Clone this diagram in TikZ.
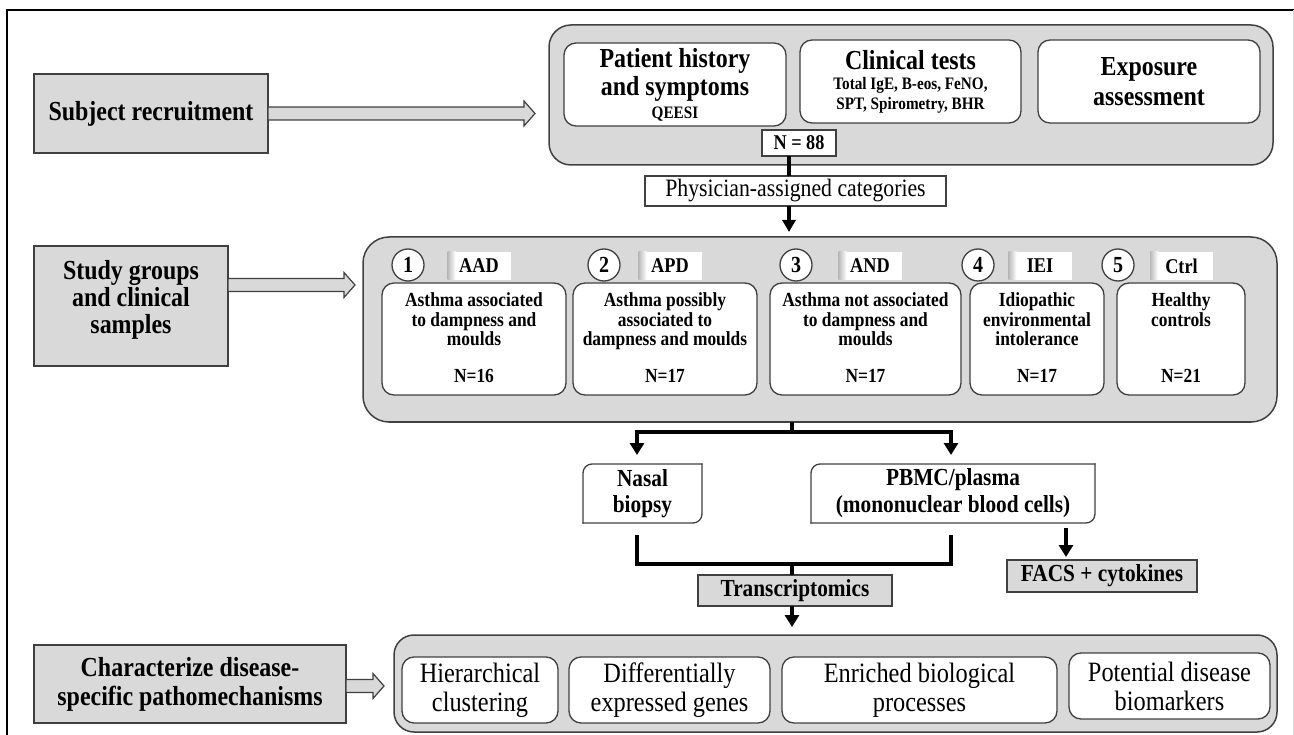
\documentclass[tikz,border=0pt]{standalone}
\usepackage{fontspec}
\setmainfont{Liberation Serif}[FakeStretch=0.87]
\usetikzlibrary{arrows.meta,calc}
\definecolor{gfill}{RGB}{217,217,217}
\definecolor{bord}{RGB}{64,64,64}
\newcommand\hollowarrow[2]{%
  \draw[draw=bord, line width=1.2pt, fill=gfill, line join=miter] let \p1=#1, \p2=#2 in
    (\x1,\y1+6.5pt) -- (\x2-11pt,\y1+6.5pt) -- (\x2-11pt,\y1+12.5pt) -- (\x2,\y1)
    -- (\x2-11pt,\y1-12.5pt) -- (\x2-11pt,\y1-6.5pt) -- (\x1,\y1-6.5pt) -- cycle;}
\begin{document}
\begin{tikzpicture}[x=1pt,y=-1pt,
  every node/.style={inner sep=0pt, outer sep=0pt},
  grp/.style={draw=bord, line width=1.5pt, fill=gfill, rounded corners=22pt},
  hbox/.style={draw=bord, line width=1.3pt, fill=gfill},
  wbox/.style={draw=bord, line width=1.3pt, fill=white, rounded corners=12pt},
  pbox/.style={draw=bord, line width=1.3pt, fill=white},
  hfont/.style={font=\fontsize{27.5}{29}\selectfont\bfseries, align=center},
  gbox/.style={wbox, minimum height=112pt},
  gtext/.style={font=\fontsize{20}{19.5}\selectfont\bfseries, align=center, anchor=north},
  ntext/.style={font=\fontsize{20}{22}\selectfont\bfseries, anchor=base},
  circ/.style={circle, draw=bord, line width=1.3pt, fill=white, minimum size=32pt, font=\fontsize{23}{24}\selectfont\bfseries},
  tagbox/.style={fill=white, minimum width=63pt, minimum height=28pt, font=\fontsize{21}{22}\selectfont\bfseries},
  bfont/.style={font=\fontsize{28}{29}\selectfont, align=center},
  conn/.style={line width=3.6pt, draw=black, line join=miter},
  tip/.style={-{Triangle[width=14pt,length=12pt]}},
  outl/.style={draw=bord, line width=1.3pt, rounded corners=9pt, line cap=rect}
]
\useasboundingbox (0,0) rectangle (1294,735);
% frame
\draw[line width=2pt] (7,735) -- (7,10) -- (1294,10);
\draw[gray!30, line width=1pt] (1293,10) -- (1293,735);

% left heading boxes
\node[hbox, minimum width=234pt, minimum height=79pt, hfont] (subj) at (151,113.5) {Subject recruitment};
\node[hbox, minimum width=194pt, minimum height=120pt] (study) at (131,306) {};
\node[font=\fontsize{27.5}{27}\selectfont\bfseries, align=center] (studyt) at (131,300) {Study groups\\and clinical\\samples};
\node[hbox, minimum width=312pt, minimum height=78pt, hfont] (charz) at (190,684) {Characterize disease-\\specific pathomechanisms};

% top group
\node[grp, minimum width=724pt, minimum height=140pt] (topgrp) at (911,95) {};
\node[wbox, minimum width=222pt, minimum height=83pt, font=\fontsize{27.5}{28}\selectfont\bfseries, align=center] (patient) at (675,84.5)
  {Patient history\\and symptoms\\[-5pt]{\fontsize{17.5}{18}\selectfont QEESI}};
\node[wbox, minimum width=221pt, minimum height=83pt, font=\fontsize{17.5}{20}\selectfont\bfseries, align=center] (clin) at (910.5,81.5)
  {{\fontsize{27.5}{28}\selectfont Clinical tests}\\Total IgE, B-eos, FeNO,\\SPT, Spirometry, BHR};
\node[wbox, minimum width=222pt, minimum height=83pt, font=\fontsize{27.5}{30}\selectfont\bfseries, align=center] (expo) at (1149,81.5)
  {Exposure\\assessment};
\node[pbox, minimum width=74pt, minimum height=26pt, font=\fontsize{21}{22}\selectfont\bfseries] (n88) at (799,143) {N = 88};

\node[pbox, minimum width=301pt, minimum height=30pt, font=\fontsize{25}{26}\selectfont] (phys) at (795.5,191) {Physician-assigned categories};

% middle group
\node[grp, rounded corners=26pt, minimum width=914pt, minimum height=185pt] (midgrp) at (820,329.5) {};
\node[gbox, minimum width=184pt] (g1) at (474,339) {};
\node[gbox, minimum width=184pt] (g2) at (665,339) {};
\node[gbox, minimum width=191pt] (g3) at (865.5,339) {};
\node[gbox, minimum width=134pt] (g4) at (1037,339) {};
\node[gbox, minimum width=128pt] (g5) at (1181,339) {};

\node[gtext] (g1t) at (474,293) {Asthma associated\\to dampness and\\moulds};
\node[gtext] (g2t) at (665,293) {Asthma possibly\\associated to\\dampness and moulds};
\node[gtext] (g3t) at (865.5,293) {Asthma not associated\\to dampness and\\moulds};
\node[gtext] (g4t) at (1037,293) {Idiopathic\\environmental\\intolerance};
\node[gtext] (g5t) at (1181,293) {Healthy\\controls};
\node[ntext] (g1n) at (474,383) {N=16};
\node[ntext] (g2n) at (665,383) {N=17};
\node[ntext] (g3n) at (865.5,383) {N=17};
\node[ntext] (g4n) at (1037,383) {N=17};
\node[ntext] (g5n) at (1181,383) {N=21};

\node[circ] (c1) at (408,265) {1};
\node[circ] (c2) at (604,265) {2};
\node[circ] (c3) at (796,265) {3};
\node[circ] (c4) at (978,265) {4};
\node[circ] (c5) at (1118,265) {5};

\node[tagbox] (t1) at (479,266) {AAD};
\node[tagbox] (t2) at (670,266) {APD};
\node[tagbox] (t3) at (870,266) {AND};
\node[tagbox] (t4) at (1040,266) {IEI};
\node[tagbox] (t5) at (1181.5,266) {Ctrl};
\foreach \t in {t1,t2,t3,t4,t5}{
  \shade[left color=gray!55, right color=white] (\t.north west) rectangle ([xshift=8pt]\t.south west);
}

% samples
\node[fill=white, minimum width=119pt, minimum height=59pt, font=\fontsize{24.5}{26}\selectfont\bfseries, align=center] (nasal) at (642.5,493.5) {Nasal\\biopsy};
\draw[outl] (nasal.south west) -- (nasal.north west) -- (nasal.north east);
\draw[outl] (nasal.north east) -- (nasal.south east) -- (nasal.south west);
\node[fill=white, minimum width=284pt, minimum height=59pt, font=\fontsize{24.5}{27}\selectfont\bfseries, align=center] (pbmc) at (953,493.5) {PBMC/plasma\\(mononuclear blood cells)};
\draw[outl] (pbmc.south west) -- (pbmc.north west) -- (pbmc.north east);
\draw[outl] (pbmc.north east) -- (pbmc.south east) -- (pbmc.south west);

\node[hbox, minimum width=194pt, minimum height=31pt, font=\fontsize{24.5}{26}\selectfont\bfseries] (trans) at (795,590.5) {Transcriptomics};
\node[hbox, minimum width=190pt, minimum height=32pt, font=\fontsize{24.5}{26}\selectfont\bfseries] (facs) at (1102,576) {FACS + cytokines};

% bottom group
\node[grp, rounded corners=20pt, minimum width=883pt, minimum height=97pt] (botgrp) at (835.5,683.5) {};
\node[wbox, minimum width=156pt, minimum height=66pt, bfont] (hier) at (480,690) {Hierarchical\\clustering};
\node[wbox, minimum width=201pt, minimum height=66pt, bfont] (diff) at (669.5,690) {Differentially\\expressed genes};
\node[wbox, minimum width=275pt, minimum height=66pt, bfont] (enr) at (919.5,690) {Enriched biological\\processes};
\node[wbox, minimum width=201pt, minimum height=66pt, bfont] (pot) at (1169.5,686) {Potential disease\\biomarkers};

% hollow arrows
\hollowarrow{(subj.east)}{($(topgrp.west)+(-14,0)$)}
\hollowarrow{($(study.east)+(0,-21)$)}{($(midgrp.west)+(-8,0)$)}
\hollowarrow{($(charz.east)+(0,2)$)}{($(botgrp.west)+(-10,0)$)}

% connectors
\coordinate (tx) at (789,0);
\draw[line width=3.2pt] (n88.south -| tx) -- (phys.north -| tx);
\draw[line width=3.2pt, -{Triangle[width=13pt,length=12pt]}] (phys.south -| tx) -- ($(midgrp.north -| tx)+(0,-5)$);

\coordinate (j1) at (792,432);
\coordinate (nx) at (637,0);
\coordinate (px) at (951,0);
\draw[conn] (midgrp.south -| j1) -- (j1);
\draw[conn, tip] (j1) -| ($(nasal.north -| nx)+(0,-9)$);
\draw[conn, tip] (j1) -| ($(pbmc.north -| px)+(0,-9)$);

\coordinate (j2) at (792,564);
\draw[conn] ($(nasal.south -| nx)+(0,12)$) |- (j2) -| ($(pbmc.south -| px)+(0,12)$);
\draw[conn] (j2) -- (j2 |- trans.north);
\draw[conn, tip] (trans.south -| j2) -- ($(botgrp.north -| j2)+(0,-8)$);

\coordinate (fx) at (1066,0);
\draw[conn, tip] ($(pbmc.south -| fx)+(0,5)$) -- ($(facs.north -| fx)+(0,-3)$);
\end{tikzpicture}
\end{document}
